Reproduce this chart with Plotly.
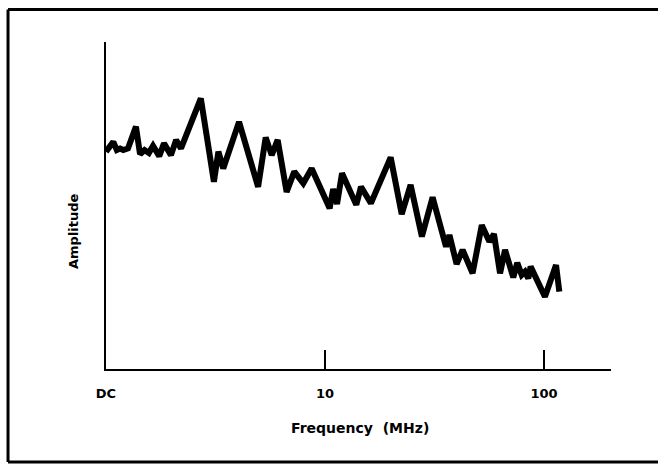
import plotly.graph_objects as go

# Frequency (MHz), log axis; "DC" drawn at 1 MHz position
freq = [1.0, 1.08, 1.12, 1.16, 1.2, 1.26, 1.37, 1.43, 1.50, 1.57, 1.64, 1.75, 1.84, 1.98, 2.09, 2.20,
        2.71, 3.11, 3.26, 3.43, 4.05, 4.95, 5.36, 5.71, 6.08, 6.68, 7.24, 7.96, 8.69,
        10.5, 10.9, 11.35, 11.96, 13.9, 14.6, 16.2, 19.95, 22.4, 24.6, 27.7, 31.0, 35.7, 37.0,
        39.9, 42.5, 47.2, 52.0, 56.3, 59.1, 63.0, 66.4, 72.4, 75.5, 79.1, 81.9, 84.8, 86.9,
        101.0, 113.5, 117.5]
amplitude = [68.9, 72.0, 69.4, 69.9, 69.4, 69.9, 76.8, 68.1, 69.4, 68.5, 70.7, 67.5, 71.5, 67.8, 72.6, 69.9,
             85.7, 59.4, 68.9, 63.6, 78.3, 57.8, 73.4, 67.8, 72.6, 56.2, 62.6, 58.9, 63.6,
             51.0, 57.1, 52.4, 62.1, 52.1, 57.8, 52.6, 67.1, 49.2, 58.4, 42.1, 54.5, 38.9, 42.6,
             33.4, 37.9, 30.5, 45.7, 40.5, 42.9, 30.5, 37.9, 29.2, 33.8, 30.0, 31.0, 28.9, 32.6,
             23.1, 33.1, 24.7]
tick_vals = [1, 10, 100]
tick_text = ["DC", "10", "100"]

FONT = "DejaVu Sans"

fig = go.Figure()
fig.add_trace(go.Scatter(x=freq, y=amplitude, mode="lines",
                         line=dict(color="black", width=6), hoverinfo="skip"))

fig.update_layout(
    width=658, height=466,
    margin=dict(l=106, r=47, t=42, b=97),
    paper_bgcolor="white", plot_bgcolor="white",
    showlegend=False,
    xaxis=dict(type="log", range=[0, 2.306], showgrid=False, zeroline=False,
               showline=True, linecolor="black", linewidth=2,
               tickmode="array", tickvals=tick_vals, ticktext=tick_text,
               ticks="inside", ticklen=19, tickwidth=2, tickcolor="black",
               ticklabelstandoff=11,
               tickfont=dict(family=FONT, size=13, color="black", weight="bold")),
    yaxis=dict(range=[0.3, 103.5], showgrid=False, zeroline=False,
               showline=True, linecolor="black", linewidth=2,
               showticklabels=False, ticks=""),
    annotations=[
        dict(text="Amplitude", xref="paper", yref="paper", x=-0.0653, y=0.422,
             xanchor="center", yanchor="middle", textangle=-90, showarrow=False,
             font=dict(family=FONT, size=13, color="black", weight="bold")),
        dict(text="Frequency&nbsp; (MHz)", xref="paper", yref="paper", x=0.502, y=-0.180,
             xanchor="center", yanchor="middle", showarrow=False,
             font=dict(family=FONT, size=14, color="black", weight="bold")),
    ],
    shapes=[
        dict(type="line", xref="paper", yref="paper", x0=-0.194, x1=-0.194, y0=-0.2844, y1=1.0994,
             line=dict(color="black", width=3)),
        dict(type="line", xref="paper", yref="paper", x0=-0.194, x1=1.10, y0=1.0994, y1=1.0994,
             line=dict(color="black", width=3)),
        dict(type="line", xref="paper", yref="paper", x0=-0.194, x1=1.10, y0=-0.2844, y1=-0.2844,
             line=dict(color="black", width=3)),
    ],
)

fig.write_html("out.html", config={"displayModeBar": False},
               post_script="document.body.style.margin='0';")
